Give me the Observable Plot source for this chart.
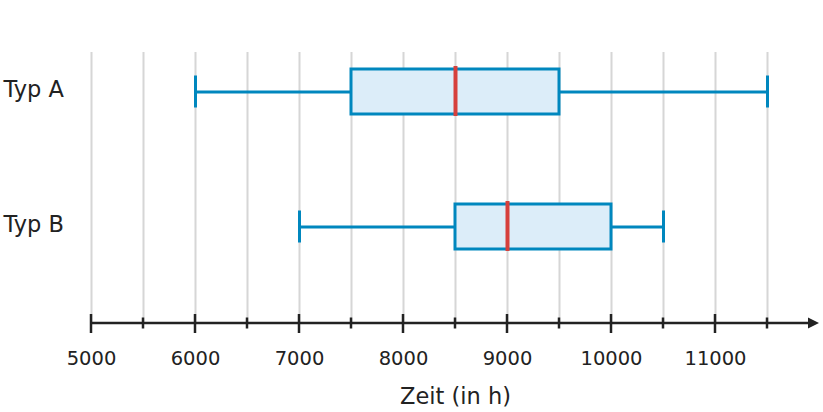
<!DOCTYPE html>
<html><head><meta charset="utf-8">
<script src="https://cdn.jsdelivr.net/npm/d3@7"></script>
<script src="https://cdn.jsdelivr.net/npm/@observablehq/plot@0.6"></script>
<style>body{margin:0;background:#fff}</style>
</head><body><div id="chart"></div>
<script>
const categories = ["Typ A", "Typ B"];
const minimum = [6000, 7000];
const lowerQuartile = [7500, 8500];
const median = [8500, 9000];
const upperQuartile = [9500, 10000];
const maximum = [11500, 10500];
const majorTicks = [5000, 6000, 7000, 8000, 9000, 10000, 11000];
const minorTicks = [5500, 6500, 7500, 8500, 9500, 10500, 11500];
const gridTicks = [5000, 5500, 6000, 6500, 7000, 7500, 8000, 8500, 9000, 9500, 10000, 10500, 11000, 11500];
const xDomain = [5000, 12000];
const axisLabel = "Zeit (in h)";

const blue = "#0087be";
const boxFill = "#dcedf9";
const red = "#d6403c";
const ink = "#222222";

const rows = categories.map((c, i) => ({
  typ: c, min: minimum[i], q1: lowerQuartile[i], median: median[i], q3: upperQuartile[i], max: maximum[i]
}));

function axisLine(index, scales, values, dimensions) {
  const g = d3.create("svg:g");
  const y0 = dimensions.height - dimensions.marginBottom;
  const x = scales.x;
  const xa = x(xDomain[0]), xb = x(xDomain[1]);
  g.append("line").attr("x1", xa).attr("x2", xb - 8).attr("y1", y0).attr("y2", y0)
    .attr("stroke", ink).attr("stroke-width", 2.5);
  g.append("path").attr("d", `M${xb},${y0}L${xb - 11},${y0 - 5.5}L${xb - 11},${y0 + 5.5}Z`).attr("fill", ink);
  for (const t of majorTicks) {
    g.append("line").attr("x1", x(t)).attr("x2", x(t)).attr("y1", y0 - 9).attr("y2", y0 + 10)
      .attr("stroke", ink).attr("stroke-width", 2.5);
  }
  for (const t of minorTicks) {
    g.append("line").attr("x1", x(t)).attr("x2", x(t)).attr("y1", y0 - 5.5).attr("y2", y0 + 5.5)
      .attr("stroke", ink).attr("stroke-width", 2.5);
  }
  return g.node();
}

const chart = Plot.plot({
  width: 823, height: 412,
  marginLeft: 91, marginRight: 4, marginTop: 52, marginBottom: 89,
  style: {fontFamily: "DejaVu Sans", background: "white", color: ink},
  x: {domain: xDomain},
  y: {type: "band", domain: categories, range: [68.5, 249], paddingInner: 0.668, paddingOuter: 0},
  marks: [
    Plot.ruleX(gridTicks, {x: d => d, stroke: "#d6d6d6", strokeWidth: 2}),
    Plot.ruleY(rows, {y: "typ", x1: "min", x2: "q1", stroke: blue, strokeWidth: 3}),
    Plot.ruleY(rows, {y: "typ", x1: "q3", x2: "max", stroke: blue, strokeWidth: 3}),
    Plot.tickX(rows, {x: "min", y: "typ", insetTop: 6.5, insetBottom: 6.5, stroke: blue, strokeWidth: 3}),
    Plot.tickX(rows, {x: "max", y: "typ", insetTop: 6.5, insetBottom: 6.5, stroke: blue, strokeWidth: 3}),
    Plot.barX(rows, {x1: "q1", x2: "q3", y: "typ", fill: boxFill, stroke: blue, strokeWidth: 3}),
    Plot.tickX(rows, {x: "median", y: "typ", insetTop: -3, insetBottom: -2, stroke: red, strokeWidth: 4}),
    axisLine,
    Plot.axisX({ticks: majorTicks, tickFormat: d3.format("d"), tickSize: 0, tickPadding: 28, fontSize: 19.5, label: null, fill: ink}),
    Plot.axisY({tickSize: 0, tickPadding: 88, textAnchor: "start", fontSize: 22.5, dy: -2, label: null, fill: ink}),
    Plot.text([axisLabel], {text: d => d, frameAnchor: "bottom", dy: 80, fontSize: 22.5, fill: ink})
  ]
});
document.getElementById("chart").append(chart);
</script>
</body></html>
